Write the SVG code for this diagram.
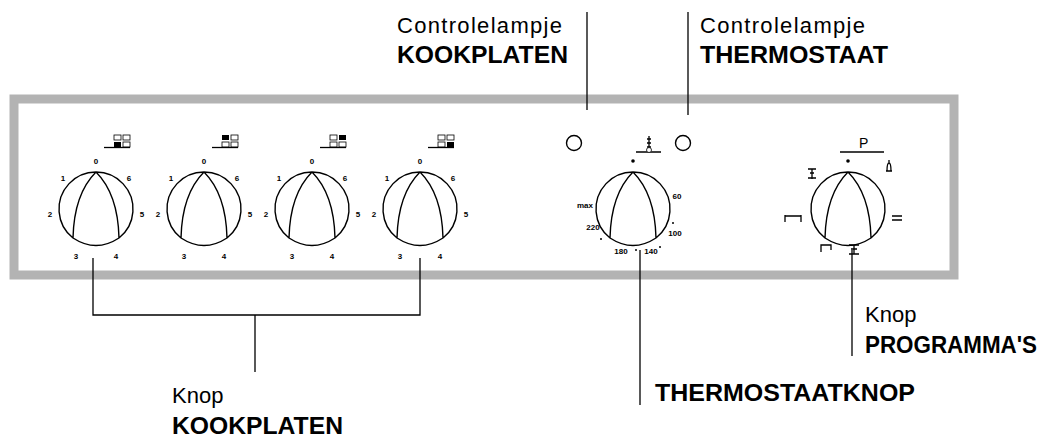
<svg xmlns="http://www.w3.org/2000/svg" width="1046" height="448" viewBox="0 0 1046 448">
<defs>
<style>
.ln{stroke:#000;stroke-width:1.3;fill:none}
.k{stroke:#000;stroke-width:1.4;fill:none}
.t{font-family:"Liberation Sans",Arial,sans-serif;font-size:22px;fill:#000}
.b{font-family:"Liberation Sans",Arial,sans-serif;font-size:23px;font-weight:bold;fill:#000}
.n{font-family:"Liberation Sans",Arial,sans-serif;font-size:8px;font-weight:bold;fill:#000;text-anchor:middle}
.sq{stroke:#000;stroke-width:0.8;fill:#fff}
</style>
<g id="knob">
<path class="k" d="M23,29 A37,37 0 1 0 -23,29 Q0,44 23,29 M0,-37 Q-22,-15 -23,29 M0,-37 Q22,-15 23,29"/>
</g>
</defs>
<rect x="14" y="99" width="940" height="176" fill="#fff" stroke="#b3b3b3" stroke-width="9"/>
<g id="connectors">
<path class="ln" d="M93,258 V315 H420 V258 M255,315 V372"/>
<path class="ln" d="M640,250 V405"/>
<path class="ln" d="M852,250 V356"/>
<path class="ln" d="M587,12 V110"/>
<path class="ln" d="M688,12 V115"/>
</g>
<g id="knob1" transform="translate(96,209)">
<use href="#knob"/>
<text class="n" y="-45">0</text><text class="n" x="-33" y="-28">1</text><text class="n" x="33" y="-28">6</text>
<text class="n" x="-46" y="8">2</text><text class="n" x="46" y="8">5</text><text class="n" x="-20" y="50">3</text><text class="n" x="20" y="50">4</text>
<rect class="sq" x="18" y="-74" width="7" height="5"/><rect class="sq" x="27" y="-74" width="7" height="5"/>
<rect x="18" y="-67" width="7" height="5"/><rect class="sq" x="27" y="-67" width="7" height="5"/>
<path class="ln" d="M8,-61.5 H34"/>
</g>
<g id="knob2" transform="translate(204,209)">
<use href="#knob"/>
<text class="n" y="-45">0</text><text class="n" x="-33" y="-28">1</text><text class="n" x="33" y="-28">6</text>
<text class="n" x="-46" y="8">2</text><text class="n" x="46" y="8">5</text><text class="n" x="-20" y="50">3</text><text class="n" x="20" y="50">4</text>
<rect x="18" y="-74" width="7" height="5"/><rect class="sq" x="27" y="-74" width="7" height="5"/>
<rect class="sq" x="18" y="-67" width="7" height="5"/><rect class="sq" x="27" y="-67" width="7" height="5"/>
<path class="ln" d="M8,-61.5 H34"/>
</g>
<g id="knob3" transform="translate(312,209)">
<use href="#knob"/>
<text class="n" y="-45">0</text><text class="n" x="-33" y="-28">1</text><text class="n" x="33" y="-28">6</text>
<text class="n" x="-46" y="8">2</text><text class="n" x="46" y="8">5</text><text class="n" x="-20" y="50">3</text><text class="n" x="20" y="50">4</text>
<rect class="sq" x="18" y="-74" width="7" height="5"/><rect x="27" y="-74" width="7" height="5"/>
<rect class="sq" x="18" y="-67" width="7" height="5"/><rect class="sq" x="27" y="-67" width="7" height="5"/>
<path class="ln" d="M8,-61.5 H34"/>
</g>
<g id="knob4" transform="translate(420,209)">
<use href="#knob"/>
<text class="n" y="-45">0</text><text class="n" x="-33" y="-28">1</text><text class="n" x="33" y="-28">6</text>
<text class="n" x="-46" y="8">2</text><text class="n" x="46" y="8">5</text><text class="n" x="-20" y="50">3</text><text class="n" x="20" y="50">4</text>
<rect class="sq" x="18" y="-74" width="7" height="5"/><rect class="sq" x="27" y="-74" width="7" height="5"/>
<rect class="sq" x="18" y="-67" width="7" height="5"/><rect x="27" y="-67" width="7" height="5"/>
<path class="ln" d="M8,-61.5 H34"/>
</g>
<g id="lamp1"><circle class="k" cx="574" cy="143" r="7.5"/></g>
<g id="lamp2"><circle class="k" cx="683" cy="143" r="7.5"/></g>
<g id="thermostat" transform="translate(633,209)">
<use href="#knob"/>
<circle cx="0" cy="-48" r="1.8"/>
<text class="n" x="-48" y="-1" font-size="6">max</text>
<text class="n" x="44" y="-10">60</text><text class="n" x="-40" y="21">220</text><text class="n" x="42" y="27">100</text>
<text class="n" x="-12" y="45">180</text><text class="n" x="18" y="45">140</text>
<circle cx="-32" cy="30" r="1"/><circle cx="40" cy="14" r="1"/><circle cx="27" cy="38" r="1"/><circle cx="3" cy="41" r="1"/>
<path class="ln" d="M3,-57 H28 M16,-57 V-73 M14,-70 H18 M14,-66 H18 M14,-62 H18"/>
<circle class="sq" cx="16" cy="-59" r="2.5"/>
</g>
<g id="programs" transform="translate(848,209)">
<use href="#knob"/>
<circle cx="0" cy="-48" r="1.8"/>
<text x="11" y="-61" font-family="Liberation Sans,Arial,sans-serif" font-size="14">P</text>
<path class="ln" d="M-8,-57 H36"/>
<path class="ln" d="M-40,-40 H-32 M-38,-36 H-34 M-36,-40 V-30 M-40,-31 H-32"/>
<path class="ln" d="M38,-38 H44 M39,-38 Q39,-46 41,-46 Q43,-46 43,-38 M41,-46 V-49"/>
<path class="ln" d="M-63,13 V6 M-47,13 V6 M-63,7 H-47"/>
<path class="ln" d="M44,7 H54 M44,11 H54"/>
<path class="ln" d="M-27,43 V36 H-17 V41"/>
<path class="ln" d="M1,36 H11 M6,36 V45 M3,40 H9 M1,45 H11"/>
</g>
<g id="labels">
<text class="t" x="397" y="33" textLength="165">Controlelampje</text>
<text class="b" x="397" y="63" textLength="171" lengthAdjust="spacingAndGlyphs">KOOKPLATEN</text>
<text class="t" x="700" y="33" textLength="165">Controlelampje</text>
<text class="b" x="700" y="63" textLength="188" lengthAdjust="spacingAndGlyphs">THERMOSTAAT</text>
<text class="t" x="172" y="403">Knop</text>
<text class="b" x="172" y="434" textLength="171" lengthAdjust="spacingAndGlyphs">KOOKPLATEN</text>
<text class="b" x="655" y="401" textLength="260" lengthAdjust="spacingAndGlyphs">THERMOSTAATKNOP</text>
<text class="t" x="865" y="322">Knop</text>
<text class="b" x="865" y="353" textLength="172" lengthAdjust="spacingAndGlyphs">PROGRAMMA'S</text>
</g>
</svg>
